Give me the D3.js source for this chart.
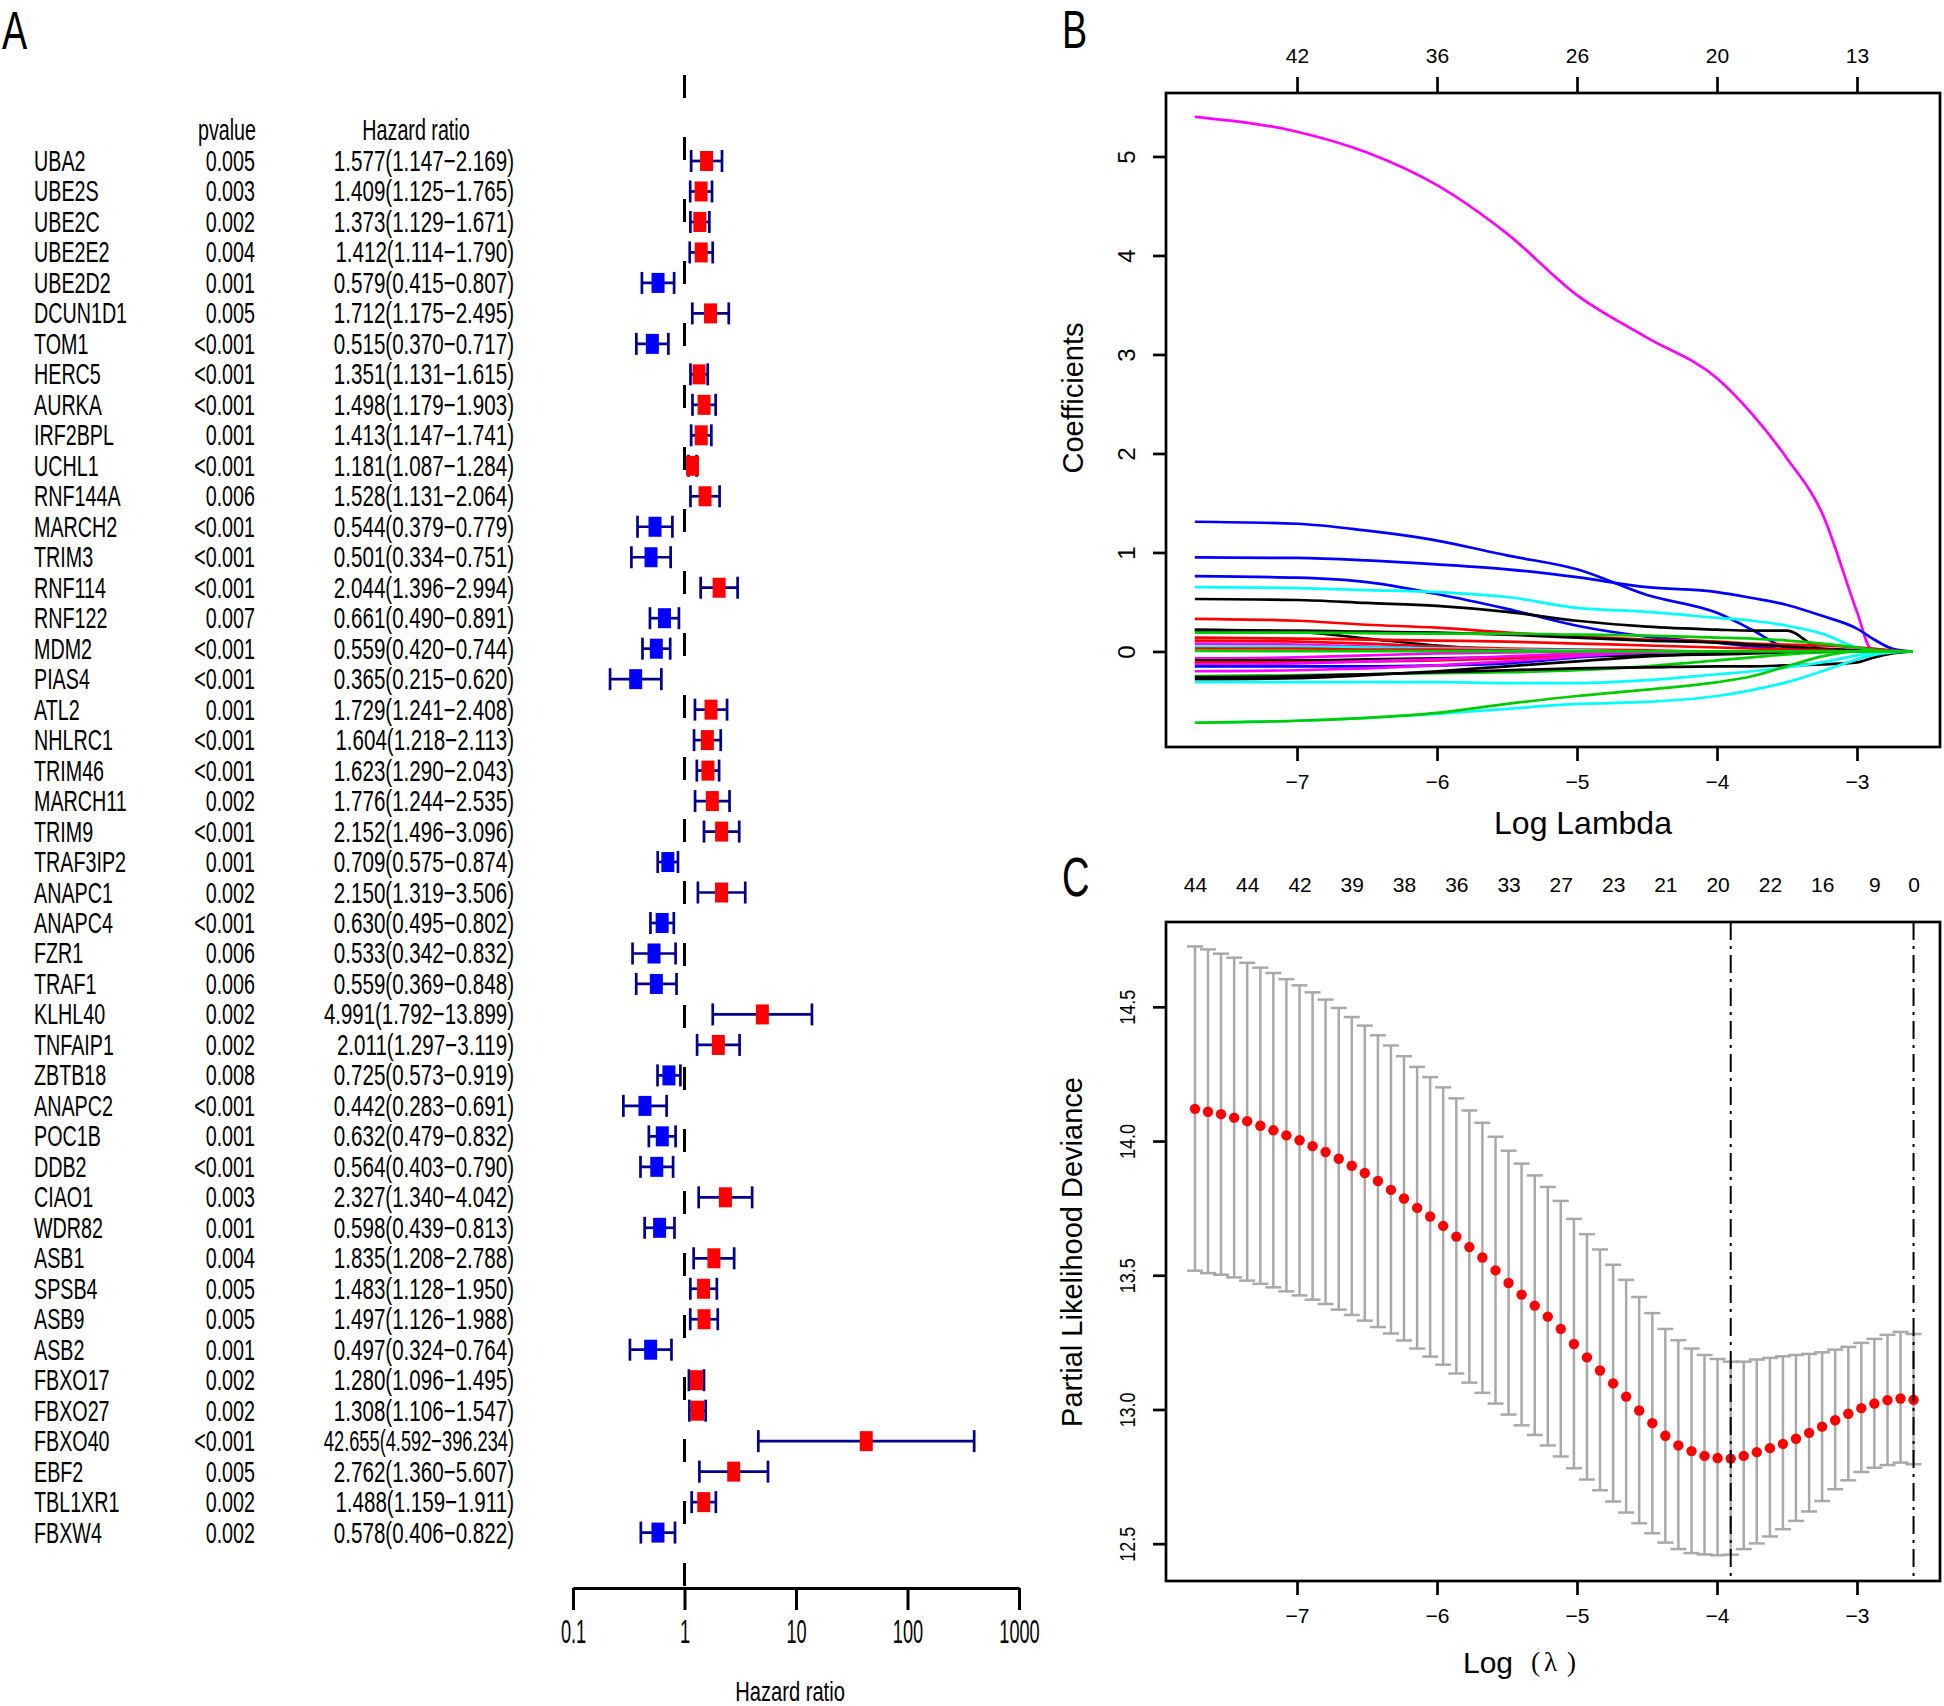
<!DOCTYPE html>
<html lang="en">
<head>
<meta charset="UTF-8">
<title>Forest plot and LASSO</title>
<script src="https://d3js.org/d3.v7.min.js"></script>
<style>
  body { margin: 0; background: #fff; }
  svg { display: block; font-family: "Liberation Sans", Arial, sans-serif; }
</style>
</head>
<body>
<script>

// ---- panel A: univariate cox ----
var genes = ["UBA2","UBE2S","UBE2C","UBE2E2","UBE2D2","DCUN1D1","TOM1","HERC5","AURKA","IRF2BPL",
  "UCHL1","RNF144A","MARCH2","TRIM3","RNF114","RNF122","MDM2","PIAS4","ATL2","NHLRC1",
  "TRIM46","MARCH11","TRIM9","TRAF3IP2","ANAPC1","ANAPC4","FZR1","TRAF1","KLHL40","TNFAIP1",
  "ZBTB18","ANAPC2","POC1B","DDB2","CIAO1","WDR82","ASB1","SPSB4","ASB9","ASB2",
  "FBXO17","FBXO27","FBXO40","EBF2","TBL1XR1","FBXW4"];
var pvalues = ["0.005","0.003","0.002","0.004","0.001","0.005","<0.001","<0.001","<0.001","0.001",
  "<0.001","0.006","<0.001","<0.001","<0.001","0.007","<0.001","<0.001","0.001","<0.001",
  "<0.001","0.002","<0.001","0.001","0.002","<0.001","0.006","0.006","0.002","0.002",
  "0.008","<0.001","0.001","<0.001","0.003","0.001","0.004","0.005","0.005","0.001",
  "0.002","0.002","<0.001","0.005","0.002","0.002"];
var hazard = [1.577,1.409,1.373,1.412,0.579,1.712,0.515,1.351,1.498,1.413,
  1.181,1.528,0.544,0.501,2.044,0.661,0.559,0.365,1.729,1.604,
  1.623,1.776,2.152,0.709,2.150,0.630,0.533,0.559,4.991,2.011,
  0.725,0.442,0.632,0.564,2.327,0.598,1.835,1.483,1.497,0.497,
  1.280,1.308,42.655,2.762,1.488,0.578];
var lower = [1.147,1.125,1.129,1.114,0.415,1.175,0.370,1.131,1.179,1.147,
  1.087,1.131,0.379,0.334,1.396,0.490,0.420,0.215,1.241,1.218,
  1.290,1.244,1.496,0.575,1.319,0.495,0.342,0.369,1.792,1.297,
  0.573,0.283,0.479,0.403,1.340,0.439,1.208,1.128,1.126,0.324,
  1.096,1.106,4.592,1.360,1.159,0.406];
var upper = [2.169,1.765,1.671,1.790,0.807,2.495,0.717,1.615,1.903,1.741,
  1.284,2.064,0.779,0.751,2.994,0.891,0.744,0.620,2.408,2.113,
  2.043,2.535,3.096,0.874,3.506,0.802,0.832,0.848,13.899,3.119,
  0.919,0.691,0.832,0.790,4.042,0.813,2.788,1.950,1.988,0.764,
  1.495,1.547,396.234,5.607,1.911,0.822];
var hrTicks = [0.1, 1, 10, 100, 1000];

// ---- panel B: coefficient paths ----
var coefKnots = [-7.73, -7.0, -6.5, -6.0, -5.5, -5.0, -4.5, -4.0, -3.75, -3.5, -3.25, -3.0, -2.9, -2.75, -2.6];
var coefColors = ["magenta","blue","blue","blue","cyan","black","red","black","black","#00CD00",
  "red","red","magenta","cyan","red","magenta","black","red","magenta","blue",
  "magenta","#00CD00","black","black","cyan","cyan","#00CD00","#00CD00"];
var coefPaths = [
  [5.40, 5.25, 5.04, 4.71, 4.22, 3.60, 3.17, 2.76, 2.40, 1.95, 1.40, 0.40, 0.03, 0, 0],
  [1.31, 1.29, 1.22, 1.12, 0.97, 0.83, 0.57, 0.39, 0.22, 0.04, 0.02, 0.01, 0.005, 0, 0],
  [0.95, 0.945, 0.92, 0.88, 0.83, 0.75, 0.65, 0.60, 0.54, 0.47, 0.36, 0.23, 0.14, 0.03, 0],
  [0.76, 0.745, 0.70, 0.58, 0.43, 0.26, 0.15, 0.09, 0.05, 0.02, 0.01, 0, 0, 0, 0],
  [0.65, 0.64, 0.62, 0.60, 0.55, 0.44, 0.40, 0.34, 0.31, 0.26, 0.18, 0.04, 0.01, 0, 0],
  [0.53, 0.52, 0.49, 0.46, 0.40, 0.31, 0.25, 0.22, 0.21, 0.21, 0.02, 0, 0, 0, 0],
  [0.33, 0.31, 0.27, 0.24, 0.19, 0.15, 0.12, 0.10, 0.08, 0.07, 0.06, 0.04, 0.03, 0.01, 0],
  [0.22, 0.20, 0.13, 0.06, 0.02, 0.01, 0, 0, 0, 0, 0, 0, 0, 0, 0],
  [0.21, 0.21, 0.20, 0.19, 0.17, 0.14, 0.11, 0.09, 0.07, 0.05, 0.03, 0.01, 0, 0, 0],
  [0.19, 0.19, 0.185, 0.18, 0.18, 0.17, 0.16, 0.14, 0.13, 0.11, 0.08, 0.04, 0.02, 0.005, 0],
  [0.14, 0.13, 0.12, 0.11, 0.10, 0.08, 0.06, 0.04, 0.03, 0.02, 0.01, 0, 0, 0, 0],
  [0.11, 0.10, 0.08, 0.05, 0.03, 0.02, 0.01, 0, 0, 0, 0, 0, 0, 0, 0],
  [0.08, 0.07, 0.05, 0.03, 0.01, 0, 0, 0, 0, 0, 0, 0, 0, 0, 0],
  [0.05, 0.05, 0.04, 0.03, 0.02, 0.01, 0, 0, 0, 0, 0, 0, 0, 0, 0],
  [0.03, 0.03, 0.02, 0.02, 0.01, 0, 0, 0, 0, 0, 0, 0, 0, 0, 0],
  [-0.07, -0.06, -0.04, -0.02, -0.01, 0, 0, 0, 0, 0, 0, 0, 0, 0, 0],
  [-0.09, -0.09, -0.08, -0.07, -0.06, -0.05, -0.04, -0.03, -0.02, -0.01, 0, 0, 0, 0, 0],
  [-0.11, -0.11, -0.10, -0.09, -0.07, -0.04, -0.01, 0, 0, 0, 0, 0, 0, 0, 0],
  [-0.13, -0.12, -0.10, -0.08, -0.05, -0.02, 0, 0, 0, 0, 0, 0, 0, 0, 0],
  [-0.15, -0.15, -0.15, -0.14, -0.12, -0.06, -0.01, 0, 0, 0, 0, 0, 0, 0, 0],
  [-0.20, -0.19, -0.17, -0.14, -0.10, -0.05, -0.01, 0, 0, 0, 0, 0, 0, 0, 0],
  [-0.25, -0.24, -0.23, -0.22, -0.21, -0.19, -0.15, -0.09, -0.06, -0.03, -0.01, 0, 0, 0, 0],
  [-0.26, -0.25, -0.23, -0.21, -0.19, -0.17, -0.16, -0.15, -0.15, -0.14, -0.13, -0.11, -0.07, -0.02, 0],
  [-0.28, -0.27, -0.24, -0.20, -0.15, -0.10, -0.05, -0.02, -0.01, 0, 0, 0, 0, 0, 0],
  [-0.31, -0.31, -0.31, -0.31, -0.32, -0.32, -0.29, -0.23, -0.20, -0.16, -0.11, -0.04, -0.02, -0.005, 0],
  [-0.72, -0.70, -0.67, -0.63, -0.58, -0.53, -0.51, -0.45, -0.39, -0.31, -0.20, -0.08, -0.04, -0.01, 0],
  [-0.72, -0.70, -0.67, -0.62, -0.53, -0.45, -0.385, -0.31, -0.25, -0.15, -0.05, 0, 0, 0, 0],
  [0.005, 0.004, 0.003, 0.002, 0.001, 0, 0, 0, 0, 0, 0, 0, 0, 0, 0]
];
var lambdaTicks = [-7, -6, -5, -4, -3];
var coefTopLabels = ["42", "36", "26", "20", "13"];
var coefTicks = [0, 1, 2, 3, 4, 5];

// ---- panel C: cross validation ----
var logLambda = [-7.729,-7.636,-7.543,-7.449,-7.356,-7.262,-7.169,-7.076,-6.982,-6.889,
  -6.796,-6.702,-6.609,-6.516,-6.422,-6.329,-6.236,-6.142,-6.049,-5.956,
  -5.862,-5.769,-5.676,-5.582,-5.489,-5.396,-5.302,-5.209,-5.116,-5.022,
  -4.929,-4.836,-4.742,-4.649,-4.556,-4.462,-4.369,-4.276,-4.182,-4.089,
  -3.996,-3.902,-3.809,-3.716,-3.622,-3.529,-3.436,-3.342,-3.249,-3.156,
  -3.062,-2.969,-2.876,-2.782,-2.689,-2.596];
var cvMean = [14.120,14.109,14.100,14.087,14.074,14.057,14.040,14.021,14.003,13.981,
  13.959,13.934,13.908,13.881,13.851,13.818,13.786,13.751,13.719,13.684,
  13.644,13.605,13.566,13.518,13.471,13.428,13.387,13.346,13.300,13.244,
  13.194,13.145,13.097,13.048,12.996,12.949,12.902,12.866,12.845,12.827,
  12.819,12.817,12.827,12.841,12.856,12.872,12.891,12.913,12.936,12.960,
  12.984,13.005,13.022,13.035,13.041,13.036];
var cvUpper = [14.725,14.714,14.698,14.683,14.664,14.646,14.626,14.603,14.580,14.554,
  14.527,14.496,14.462,14.430,14.394,14.356,14.316,14.276,14.238,14.200,
  14.159,14.114,14.068,14.016,13.964,13.916,13.872,13.829,13.777,13.710,
  13.653,13.596,13.539,13.483,13.419,13.359,13.300,13.258,13.227,13.203,
  13.188,13.178,13.178,13.186,13.192,13.198,13.203,13.207,13.213,13.223,
  13.233,13.248,13.263,13.278,13.289,13.281];
var cvLower = [13.517,13.508,13.502,13.492,13.480,13.468,13.455,13.440,13.425,13.409,
  13.393,13.372,13.352,13.331,13.307,13.283,13.257,13.227,13.197,13.167,
  13.134,13.100,13.062,13.022,12.981,12.941,12.905,12.866,12.825,12.781,
  12.739,12.699,12.657,12.616,12.576,12.539,12.504,12.480,12.465,12.460,
  12.457,12.459,12.480,12.501,12.527,12.554,12.585,12.620,12.659,12.703,
  12.736,12.767,12.783,12.793,12.802,12.796];
var nzIndex = [0, 4, 8, 12, 16, 20, 24, 28, 32, 36, 40, 44, 48, 52, 55];
var nzLabels = ["44","44","42","39","38","36","33","27","23","21","20","22","16","9","0"];
var cvTicks = [12.5, 13.0, 13.5, 14.0, 14.5];
var minIndex = 41;
var seIndex = 55;

var width = 1944, height = 1706;
var svg = d3.select("body").append("svg")
    .attr("width", width)
    .attr("height", height);
svg.append("rect").attr("width", width).attr("height", height).attr("fill", "#fff");

// text squeezed sideways, as in the original figure
function addText(parent, x, y, str, size, sx, anchor) {
    return parent.append("text")
        .attr("transform", "translate(" + x + "," + y + ") scale(" + sx + ",1)")
        .attr("text-anchor", anchor || "start")
        .attr("font-size", size)
        .attr("fill", "#000")
        .text(str);
}

addText(svg, 2, 49, "A", 54, 0.7);
addText(svg, 1062, 48, "B", 54, 0.7);
addText(svg, 1062, 896, "C", 56, 0.68);

// ---------------- panel A ----------------
var rowY = d3.scaleLinear().domain([0, genes.length - 1]).range([161, 1532.6]);
var hrX = d3.scaleLog().domain([0.1, 1000]).range([573, 1019]);

var fs = 29, sx = 0.68, hrSx = 0.71, hrMaxWidth = 190;
addText(svg, 256, 140, "pvalue", fs, sx, "end");
addText(svg, 416, 140, "Hazard ratio", fs, sx, "middle");

genes.forEach(function (g, i) {
    var y = rowY(i) + 10;
    addText(svg, 34, y, g, fs, sx, "start");
    addText(svg, 255, y, pvalues[i], fs, sx, "end");
    var hrTxt = hazard[i].toFixed(3) + "(" + lower[i].toFixed(3) + "\u2212" + upper[i].toFixed(3) + ")";
    var t = addText(svg, 514, y, hrTxt, fs, hrSx, "end");
    var w = t.node().getComputedTextLength() * hrSx;
    if (w > hrMaxWidth) {
        t.attr("transform", "translate(514," + y + ") scale(" + (hrSx * hrMaxWidth / w) + ",1)");
    }
});

svg.append("line")
    .attr("x1", hrX(1)).attr("x2", hrX(1))
    .attr("y1", 75).attr("y2", 1588)
    .attr("stroke", "#000")
    .attr("stroke-width", 3)
    .attr("stroke-dasharray", "23,39");

var rows = svg.append("g").selectAll("g")
    .data(genes)
    .enter()
        .append("g")
        .attr("transform", function (d, i) { return "translate(0," + rowY(i) + ")"; });

rows.append("line")
    .attr("x1", function (d, i) { return hrX(lower[i]); })
    .attr("x2", function (d, i) { return hrX(upper[i]); })
    .attr("stroke", "#00008B").attr("stroke-width", 2.7);
rows.append("line")
    .attr("x1", function (d, i) { return hrX(lower[i]); })
    .attr("x2", function (d, i) { return hrX(lower[i]); })
    .attr("y1", -11).attr("y2", 11)
    .attr("stroke", "#00008B").attr("stroke-width", 2.7);
rows.append("line")
    .attr("x1", function (d, i) { return hrX(upper[i]); })
    .attr("x2", function (d, i) { return hrX(upper[i]); })
    .attr("y1", -11).attr("y2", 11)
    .attr("stroke", "#00008B").attr("stroke-width", 2.7);
rows.append("rect")
    .attr("x", function (d, i) { return hrX(hazard[i]) - 6.5; })
    .attr("y", -10)
    .attr("width", 13)
    .attr("height", 20)
    .attr("fill", function (d, i) { return hazard[i] > 1 ? "#FF0000" : "#0000FF"; });

var hrAxis = svg.append("g")
    .attr("transform", "translate(0,1588)")
    .call(d3.axisBottom(hrX).tickValues(hrTicks).tickFormat(function (d) { return String(d); })
        .tickSize(22).tickSizeOuter(0).tickPadding(10));
hrAxis.selectAll("path, line").attr("stroke", "#000").attr("stroke-width", 3);
hrAxis.selectAll("text")
    .attr("font-size", 33)
    .attr("font-family", "Liberation Sans, Arial, sans-serif")
    .attr("fill", "#000")
    .attr("transform", "scale(0.55,1)");
addText(svg, 790, 1701, "Hazard ratio", 28, 0.72, "middle");

// ---------------- shared lambda scale ----------------
var lamX = d3.scaleLinear().domain([-7.936, -2.407]).range([1166, 1940]);

function styleAxis(g) {
    g.select(".domain").remove();
    g.selectAll("line").attr("stroke", "#000").attr("stroke-width", 2.7);
    g.selectAll("text")
        .attr("font-size", 21)
        .attr("font-family", "Liberation Sans, Arial, sans-serif")
        .attr("fill", "#000");
}
function rotateLabels(size, squeeze) {
    return function (g) {
        g.selectAll("text")
            .attr("x", null).attr("dy", null)
            .attr("font-size", size)
            .attr("text-anchor", "middle")
            .attr("transform", "translate(-31,0) rotate(-90) scale(" + squeeze + ",1)");
    };
}

// ---------------- panel B ----------------
var coefY = d3.scaleLinear().domain([-0.965, 5.641]).range([747, 93]);

var pathLine = d3.line()
    .x(function (d, i) { return lamX(coefKnots[i]); })
    .y(function (d) { return coefY(d); })
    .curve(d3.curveMonotoneX);

svg.append("g").selectAll("path")
    .data(coefPaths)
    .enter()
        .append("path")
        .attr("d", pathLine)
        .attr("fill", "none")
        .attr("stroke", function (d, i) { return coefColors[i]; })
        .attr("stroke-width", 2.7);

svg.append("rect")
    .attr("x", 1166).attr("y", 93).attr("width", 774).attr("height", 654)
    .attr("fill", "none").attr("stroke", "#000").attr("stroke-width", 2.7);

svg.append("g").attr("transform", "translate(0,747)")
    .call(d3.axisBottom(lamX).tickValues(lambdaTicks).tickFormat(d3.format("d")).tickSize(14).tickPadding(13))
    .call(styleAxis);
svg.append("g").attr("transform", "translate(0,93)")
    .call(d3.axisTop(lamX).tickValues(lambdaTicks)
        .tickFormat(function (d, i) { return coefTopLabels[i]; })
        .tickSize(16).tickPadding(14))
    .call(styleAxis);
svg.append("g").attr("transform", "translate(1166,0)")
    .call(d3.axisLeft(coefY).tickValues(coefTicks).tickFormat(d3.format("d")).tickSize(13))
    .call(styleAxis)
    .call(rotateLabels(24, 1));

svg.append("text")
    .attr("transform", "translate(1083,398) rotate(-90)")
    .attr("text-anchor", "middle")
    .attr("font-size", 29)
    .text("Coefficients");
svg.append("text")
    .attr("x", 1583).attr("y", 834)
    .attr("text-anchor", "middle")
    .attr("font-size", 32)
    .text("Log Lambda");

// ---------------- panel C ----------------
var cvY = d3.scaleLinear().domain([12.361, 14.816]).range([1581, 922]);

var bars = svg.append("g").selectAll("g")
    .data(logLambda)
    .enter()
        .append("g")
        .attr("transform", function (d) { return "translate(" + lamX(d) + ",0)"; });
bars.append("line")
    .attr("y1", function (d, i) { return cvY(cvLower[i]); })
    .attr("y2", function (d, i) { return cvY(cvUpper[i]); })
    .attr("stroke", "#A9A9A9").attr("stroke-width", 2.5);
bars.append("line")
    .attr("x1", -8).attr("x2", 8)
    .attr("y1", function (d, i) { return cvY(cvUpper[i]); })
    .attr("y2", function (d, i) { return cvY(cvUpper[i]); })
    .attr("stroke", "#A9A9A9").attr("stroke-width", 2.5);
bars.append("line")
    .attr("x1", -8).attr("x2", 8)
    .attr("y1", function (d, i) { return cvY(cvLower[i]); })
    .attr("y2", function (d, i) { return cvY(cvLower[i]); })
    .attr("stroke", "#A9A9A9").attr("stroke-width", 2.5);
bars.append("circle")
    .attr("cy", function (d, i) { return cvY(cvMean[i]); })
    .attr("r", 5.2)
    .attr("fill", "#FF0000");

[minIndex, seIndex].forEach(function (k) {
    svg.append("line")
        .attr("x1", lamX(logLambda[k])).attr("x2", lamX(logLambda[k]))
        .attr("y1", 922).attr("y2", 1581)
        .attr("stroke", "#000").attr("stroke-width", 2)
        .attr("stroke-dasharray", "18,6,3,6");
});

svg.append("rect")
    .attr("x", 1166).attr("y", 922).attr("width", 774).attr("height", 659)
    .attr("fill", "none").attr("stroke", "#000").attr("stroke-width", 2.7);

svg.append("g").attr("transform", "translate(0,1581)")
    .call(d3.axisBottom(lamX).tickValues(lambdaTicks).tickFormat(d3.format("d")).tickSize(14).tickPadding(13))
    .call(styleAxis);
svg.append("g").attr("transform", "translate(0,922)")
    .call(d3.axisTop(lamX).tickValues(nzIndex.map(function (k) { return logLambda[k]; }))
        .tickFormat(function (d, i) { return nzLabels[i]; })
        .tickSize(0).tickPadding(30))
    .call(styleAxis);
svg.append("g").attr("transform", "translate(1166,0)")
    .call(d3.axisLeft(cvY).tickValues(cvTicks).tickFormat(d3.format(".1f")).tickSize(13))
    .call(styleAxis)
    .call(rotateLabels(22, 0.82));

svg.append("text")
    .attr("transform", "translate(1082,1252) rotate(-90)")
    .attr("text-anchor", "middle")
    .attr("font-size", 29)
    .text("Partial Likelihood Deviance");

var lamTitle = svg.append("g").attr("font-size", 30);
lamTitle.append("text").attr("x", 1463).attr("y", 1673).text("Log");
lamTitle.append("text").attr("x", 1531).attr("y", 1671)
    .attr("font-family", "Liberation Serif, serif").attr("font-size", 27).text("(");
lamTitle.append("text").attr("x", 1544).attr("y", 1671)
    .attr("font-family", "Liberation Serif, serif").attr("font-size", 27).text("\u03bb");
lamTitle.append("text").attr("x", 1567).attr("y", 1671)
    .attr("font-family", "Liberation Serif, serif").attr("font-size", 27).text(")");

</script>
</body>
</html>
